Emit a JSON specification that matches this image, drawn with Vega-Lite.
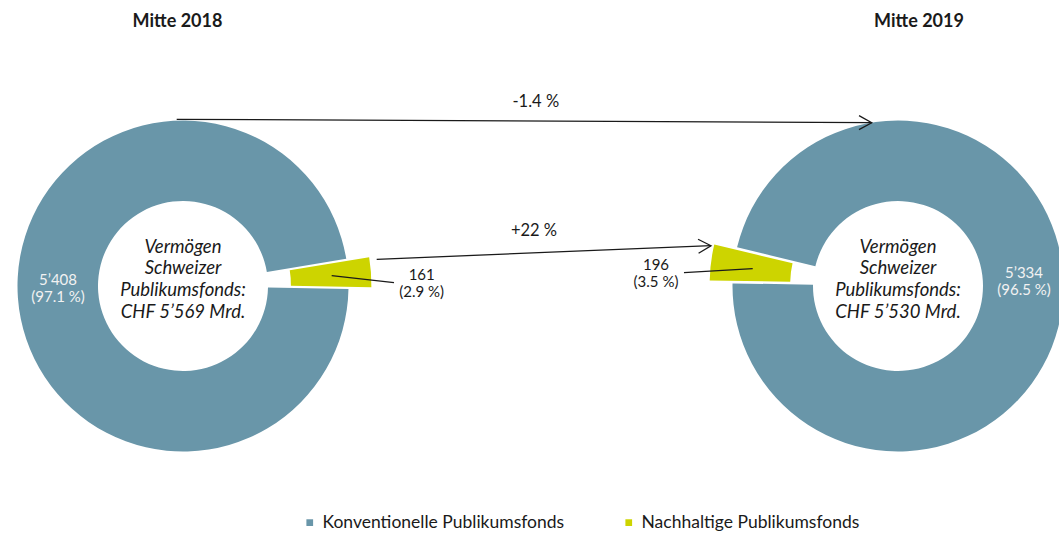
{
  "$schema": "https://vega.github.io/schema/vega-lite/v6.json",
  "width": 1059,
  "height": 534,
  "autosize": {"type": "none"},
  "padding": 0,
  "background": "white",
  "config": {
    "view": {"stroke": null},
    "font": "Lato",
    "text": {"font": "Lato", "color": "#1a1a1a"},
    "legend": {
      "title": null,
      "orient": "none",
      "legendX": 301,
      "legendY": 513.5,
      "padding": 0,
      "direction": "horizontal",
      "symbolType": "square",
      "symbolSize": 45,
      "symbolStrokeWidth": 0,
      "labelFont": "Lato",
      "labelFontSize": 17.5,
      "labelLimit": 0,
      "labelColor": "#1a1a1a",
      "labelOffset": 4,
      "columnPadding": 55
    }
  },
  "datasets": {
    "funds": [
      {"year": "Mitte 2018", "category": "Konventionelle Publikumsfonds", "value": 5408, "share": 97.1, "label": "5’408\n(97.1 %)"},
      {"year": "Mitte 2018", "category": "Nachhaltige Publikumsfonds", "value": 161, "share": 2.9, "label": "161\n(2.9 %)"},
      {"year": "Mitte 2019", "category": "Konventionelle Publikumsfonds", "value": 5334, "share": 96.5, "label": "5’334\n(96.5 %)"},
      {"year": "Mitte 2019", "category": "Nachhaltige Publikumsfonds", "value": 196, "share": 3.5, "label": "196\n(3.5 %)"}
    ],
    "totals": [
      {"year": "Mitte 2018", "total": 5569, "text": "Vermögen\nSchweizer\nPublikumsfonds:\nCHF 5’569 Mrd."},
      {"year": "Mitte 2019", "total": 5530, "text": "Vermögen\nSchweizer\nPublikumsfonds:\nCHF 5’530 Mrd."}
    ],
    "changes": [
      {"category": "Konventionelle Publikumsfonds", "from": "Mitte 2018", "to": "Mitte 2019", "change": "-1.4 %"},
      {"category": "Nachhaltige Publikumsfonds", "from": "Mitte 2018", "to": "Mitte 2019", "change": "+22 %"}
    ]
  },
  "resolve": {"scale": {"theta": "independent"}},
  "layer": [
    {
      "data": {"name": "funds"},
      "transform": [
        {"filter": "datum.year === 'Mitte 2018'"},
        {"stack": "share", "groupby": ["year"], "sort": [{"field": "category", "order": "ascending"}], "as": ["s0", "s1"]},
        {"filter": "datum.category === 'Konventionelle Publikumsfonds'"}
      ],
      "mark": {"type": "arc", "radius": 165.5, "radius2": 85, "yOffset": 19},
      "encoding": {
        "x": {"field": "year", "type": "nominal", "scale": {"type": "point", "domain": ["Mitte 2018", "Mitte 2019"], "range": [183, 898], "padding": 0}, "axis": null},
        "theta": {"field": "s0", "type": "quantitative", "scale": {"domain": [0, 100], "range": [1.58825, 7.87144]}},
        "theta2": {"field": "s1"},
        "color": {"field": "category", "type": "nominal", "scale": {"domain": ["Konventionelle Publikumsfonds", "Nachhaltige Publikumsfonds"], "range": ["#6996a9", "#cdd400"]}}
      }
    },
    {
      "data": {"name": "funds"},
      "transform": [
        {"filter": "datum.year === 'Mitte 2018'"},
        {"stack": "share", "groupby": ["year"], "sort": [{"field": "category", "order": "ascending"}], "as": ["s0", "s1"]},
        {"filter": "datum.category === 'Nachhaltige Publikumsfonds'"}
      ],
      "mark": {"type": "arc", "radius": 165.5, "radius2": 85, "xOffset": 22.9, "yOffset": 17.3},
      "encoding": {
        "x": {"field": "year", "type": "nominal"},
        "theta": {"field": "s0", "type": "quantitative", "scale": {"domain": [0, 100], "range": [1.58825, 7.87144]}},
        "theta2": {"field": "s1"},
        "color": {"field": "category", "type": "nominal", "scale": {"domain": ["Konventionelle Publikumsfonds", "Nachhaltige Publikumsfonds"], "range": ["#6996a9", "#cdd400"]}}
      }
    },
    {
      "data": {"name": "funds"},
      "transform": [
        {"filter": "datum.year === 'Mitte 2019'"},
        {"stack": "share", "groupby": ["year"], "sort": [{"field": "category", "order": "ascending"}], "as": ["s0", "s1"]},
        {"filter": "datum.category === 'Konventionelle Publikumsfonds'"}
      ],
      "mark": {"type": "arc", "radius": 165.5, "radius2": 85, "yOffset": 19},
      "encoding": {
        "x": {"field": "year", "type": "nominal"},
        "theta": {"field": "s0", "type": "quantitative", "scale": {"domain": [0, 100], "range": [4.94801, 11.2312]}},
        "theta2": {"field": "s1"},
        "color": {"field": "category", "type": "nominal", "scale": {"domain": ["Konventionelle Publikumsfonds", "Nachhaltige Publikumsfonds"], "range": ["#6996a9", "#cdd400"]}}
      }
    },
    {
      "data": {"name": "funds"},
      "transform": [
        {"filter": "datum.year === 'Mitte 2019'"},
        {"stack": "share", "groupby": ["year"], "sort": [{"field": "category", "order": "ascending"}], "as": ["s0", "s1"]},
        {"filter": "datum.category === 'Nachhaltige Publikumsfonds'"}
      ],
      "mark": {"type": "arc", "radius": 165.5, "radius2": 85, "xOffset": -22.8, "yOffset": 16.1},
      "encoding": {
        "x": {"field": "year", "type": "nominal"},
        "theta": {"field": "s0", "type": "quantitative", "scale": {"domain": [0, 100], "range": [4.94801, 11.2312]}},
        "theta2": {"field": "s1"},
        "color": {"field": "category", "type": "nominal", "scale": {"domain": ["Konventionelle Publikumsfonds", "Nachhaltige Publikumsfonds"], "range": ["#6996a9", "#cdd400"]}}
      }
    },
    {
      "data": {"name": "totals"},
      "transform": [{"filter": "datum.year === 'Mitte 2018'"}],
      "mark": {"type": "text", "fontWeight": "bold", "fontSize": 18, "baseline": "middle", "align": "center", "y": 22, "dx": -5.5},
      "encoding": {"x": {"field": "year", "type": "nominal"}, "text": {"field": "year"}}
    },
    {
      "data": {"name": "totals"},
      "transform": [{"filter": "datum.year === 'Mitte 2019'"}],
      "mark": {"type": "text", "fontWeight": "bold", "fontSize": 18, "baseline": "middle", "align": "center", "y": 22, "dx": 21},
      "encoding": {"x": {"field": "year", "type": "nominal"}, "text": {"field": "year"}}
    },
    {
      "data": {"name": "totals"},
      "mark": {"type": "text", "fontStyle": "italic", "fontSize": 18.5, "baseline": "middle", "align": "center", "lineBreak": "\n", "lineHeight": 21.7, "y": 246.7},
      "encoding": {"x": {"field": "year", "type": "nominal"}, "text": {"field": "text"}}
    },
    {
      "data": {"name": "funds"},
      "transform": [{"filter": "datum.year === 'Mitte 2018' && datum.category === 'Konventionelle Publikumsfonds'"}],
      "mark": {"type": "text", "fontSize": 15, "color": "#f2f2f2", "baseline": "middle", "align": "center", "lineBreak": "\n", "lineHeight": 17.4, "y": 280, "dx": -125},
      "encoding": {"x": {"field": "year", "type": "nominal"}, "text": {"field": "label"}}
    },
    {
      "data": {"name": "funds"},
      "transform": [{"filter": "datum.year === 'Mitte 2019' && datum.category === 'Konventionelle Publikumsfonds'"}],
      "mark": {"type": "text", "fontSize": 15, "color": "#f2f2f2", "baseline": "middle", "align": "center", "lineBreak": "\n", "lineHeight": 17.4, "y": 272.7, "dx": 126},
      "encoding": {"x": {"field": "year", "type": "nominal"}, "text": {"field": "label"}}
    },
    {
      "data": {"name": "funds"},
      "transform": [{"filter": "datum.year === 'Mitte 2018' && datum.category === 'Nachhaltige Publikumsfonds'"}],
      "mark": {"type": "text", "fontSize": 15, "baseline": "middle", "align": "center", "lineBreak": "\n", "lineHeight": 16.7, "y": 275, "dx": 238.7},
      "encoding": {"x": {"field": "year", "type": "nominal"}, "text": {"field": "label"}}
    },
    {
      "data": {"name": "funds"},
      "transform": [{"filter": "datum.year === 'Mitte 2019' && datum.category === 'Nachhaltige Publikumsfonds'"}],
      "mark": {"type": "text", "fontSize": 15, "baseline": "middle", "align": "center", "lineBreak": "\n", "lineHeight": 16.7, "y": 265, "dx": -242},
      "encoding": {"x": {"field": "year", "type": "nominal"}, "text": {"field": "label"}}
    },
    {
      "data": {"name": "funds"},
      "transform": [{"filter": "datum.year === 'Mitte 2018' && datum.category === 'Nachhaltige Publikumsfonds'"}],
      "mark": {"type": "rule", "color": "#1a1a1a", "strokeWidth": 1.3, "xOffset": 148.7, "x2Offset": 211},
      "encoding": {"x": {"field": "year", "type": "nominal"}, "x2": {"field": "year"}, "y": {"value": 275.7}, "y2": {"value": 282.7}}
    },
    {
      "data": {"name": "funds"},
      "transform": [{"filter": "datum.year === 'Mitte 2019' && datum.category === 'Nachhaltige Publikumsfonds'"}],
      "mark": {"type": "rule", "color": "#1a1a1a", "strokeWidth": 1.3, "xOffset": -214, "x2Offset": -145.3},
      "encoding": {"x": {"field": "year", "type": "nominal"}, "x2": {"field": "year"}, "y": {"value": 272.7}, "y2": {"value": 268.7}}
    },
    {
      "data": {"name": "changes"},
      "transform": [{"filter": "datum.category === 'Konventionelle Publikumsfonds'"}],
      "mark": {"type": "rule", "color": "#1a1a1a", "strokeWidth": 1.3, "xOffset": -6.3, "x2Offset": -26.3},
      "encoding": {"x": {"field": "from", "type": "nominal"}, "x2": {"field": "to"}, "y": {"value": 119.3}, "y2": {"value": 122.7}}
    },
    {
      "data": {"name": "changes"},
      "transform": [{"filter": "datum.category === 'Nachhaltige Publikumsfonds'"}],
      "mark": {"type": "rule", "color": "#1a1a1a", "strokeWidth": 1.3, "xOffset": 193.7, "x2Offset": -187},
      "encoding": {"x": {"field": "from", "type": "nominal"}, "x2": {"field": "to"}, "y": {"value": 259.3}, "y2": {"value": 245.7}}
    },
    {
      "data": {"name": "changes"},
      "transform": [{"filter": "datum.category === 'Konventionelle Publikumsfonds'"}],
      "mark": {"type": "point", "shape": "M-1,-0.55L0,0L-1,0.55", "filled": false, "stroke": "#1a1a1a", "strokeWidth": 1.3, "opacity": 1, "size": 645, "angle": 0.3, "xOffset": -26.3, "y": 122.7},
      "encoding": {"x": {"field": "to", "type": "nominal"}}
    },
    {
      "data": {"name": "changes"},
      "transform": [{"filter": "datum.category === 'Nachhaltige Publikumsfonds'"}],
      "mark": {"type": "point", "shape": "M-1,-0.55L0,0L-1,0.55", "filled": false, "stroke": "#1a1a1a", "strokeWidth": 1.3, "opacity": 1, "size": 645, "angle": -2.3, "xOffset": -187, "y": 245.7},
      "encoding": {"x": {"field": "to", "type": "nominal"}}
    },
    {
      "data": {"name": "changes"},
      "transform": [{"filter": "datum.category === 'Konventionelle Publikumsfonds'"}],
      "mark": {"type": "text", "fontSize": 16.5, "baseline": "middle", "align": "center", "y": 102.3, "dx": 352.8},
      "encoding": {"x": {"field": "from", "type": "nominal"}, "text": {"field": "change"}}
    },
    {
      "data": {"name": "changes"},
      "transform": [{"filter": "datum.category === 'Nachhaltige Publikumsfonds'"}],
      "mark": {"type": "text", "fontSize": 16.5, "baseline": "middle", "align": "center", "y": 230.7, "dx": 351},
      "encoding": {"x": {"field": "from", "type": "nominal"}, "text": {"field": "change"}}
    }
  ]
}
